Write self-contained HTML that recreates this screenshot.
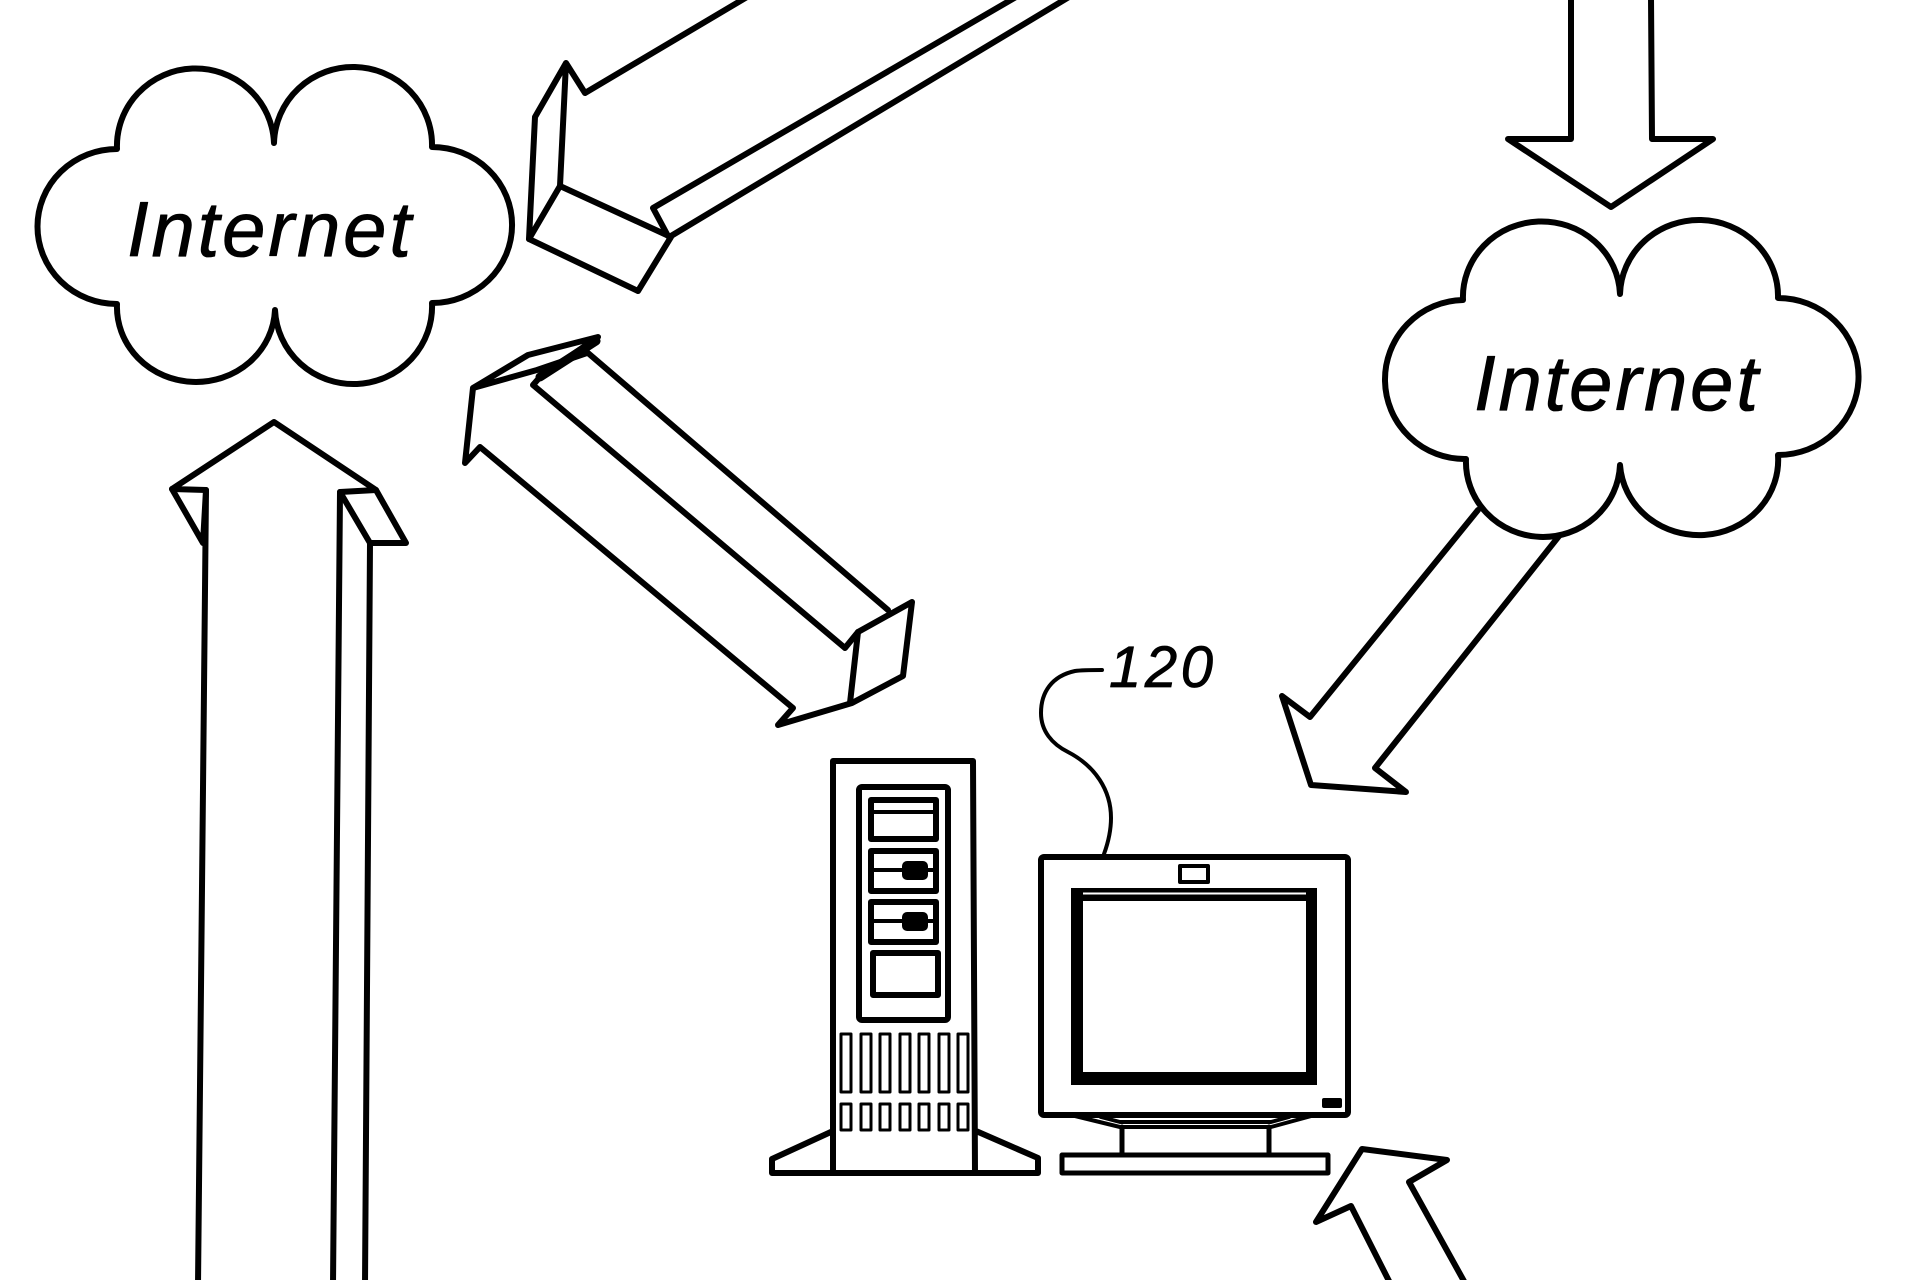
<!DOCTYPE html>
<html><head><meta charset="utf-8"><style>
html,body{margin:0;padding:0;background:#fff;width:1920px;height:1280px;overflow:hidden}
svg{display:block}
text{font-family:"Liberation Sans",sans-serif;font-style:italic;fill:#000}
</style></head><body>
<svg width="1920" height="1280" viewBox="0 0 1920 1280" xmlns="http://www.w3.org/2000/svg" fill="none" stroke="#000" stroke-width="6" stroke-linejoin="round" stroke-linecap="round">
<!-- arrow up -->
<path d="M198,1285L206,490L172,489L274,422L376,490L340,492L333,1285"/>
<path d="M172,489L203,543L206,490M340,492L370,543L406,543L376,490M370,543L365,1285"/>
<!-- top-centre arrow -->
<path d="M747,-3L585,93L566,63L535,117L529,239L638,291L671,237L560,186L566,63"/>
<path d="M560,186L529,239M1016,-3L653,208L668,236M671,236L1069,-3"/>
<!-- diagonal arrow -->
<path d="M473,388L465,463L480,447L793,708L778,725L852,703L903,676L912,602L858,632L845,648L533,385L540,377L598,337L528,355L473,388L537,370L587,353"/>
<path d="M540,377L596,341" stroke-width="9"/>
<path d="M588,353L888,610M858,632L850,703"/>
<!-- left cloud -->
<path fill="#fff" d="M117,149A78,77 0 0 1 274,143A78,77 0 0 1 432,147A78,76 0 0 1 432,303A78,77 0 0 1 275,310A78,74 0 0 1 117,304A78,76 0 0 1 117,149Z"/>
<text x="127" y="256" font-size="78" stroke-width="0.8" textLength="284" lengthAdjust="spacing">Internet</text>
<!-- down arrow -->
<path d="M1571,-3L1571,139L1508,139L1611,207L1713,139L1652,139L1651,-3"/>
<!-- lower right cloud arrow -->
<path d="M1478,510L1310,717L1282,696L1311,785L1406,792L1375,768L1563,531"/>
<!-- right cloud -->
<path fill="#fff" d="M1463,300A78,75 0 0 1 1620,294A78,75 0 0 1 1778,298A79,77 0 0 1 1778,455A78,74 0 0 1 1620,465A76,74 0 0 1 1466,459A78,78 0 0 1 1463,300Z"/>
<text x="1474" y="410" font-size="78" stroke-width="0.8" textLength="284" lengthAdjust="spacing">Internet</text>
<!-- bottom-right arrow -->
<path d="M1390,1283L1351,1206L1316,1222L1362,1149L1447,1160L1409,1182L1465,1283"/>
<!-- tower -->
<path d="M833,1173L833,761L973,761L975,1173M772,1173L1038,1173M772,1173L772,1159L833,1131M1038,1173L1038,1158L976,1131"/>
<rect x="859" y="787" width="89" height="233" rx="3"/>
<rect x="871" y="800" width="65" height="39"/>
<path d="M871,812H936" stroke-width="4"/>
<rect x="871" y="851" width="65" height="40"/>
<path d="M871,870H903" stroke-width="4"/>
<rect x="903" y="862" width="24" height="17" rx="4" fill="#000" stroke-width="2"/>
<path d="M927,870H936" stroke-width="4"/>
<rect x="871" y="902" width="65" height="40"/>
<path d="M871,921H903" stroke-width="4"/>
<rect x="903" y="913" width="24" height="17" rx="4" fill="#000" stroke-width="2"/>
<path d="M927,921H936" stroke-width="4"/>
<rect x="873" y="953" width="65" height="42"/>
<g stroke-width="3">
<rect x="841" y="1034" width="10" height="58"/><rect x="861" y="1034" width="10" height="58"/><rect x="880" y="1034" width="10" height="58"/><rect x="900" y="1034" width="10" height="58"/><rect x="919" y="1034" width="10" height="58"/><rect x="939" y="1034" width="10" height="58"/><rect x="958" y="1034" width="10" height="58"/>
<rect x="841" y="1104" width="10" height="26"/><rect x="861" y="1104" width="10" height="26"/><rect x="880" y="1104" width="10" height="26"/><rect x="900" y="1104" width="10" height="26"/><rect x="919" y="1104" width="10" height="26"/><rect x="939" y="1104" width="10" height="26"/><rect x="958" y="1104" width="10" height="26"/>
</g>
<!-- leader + 120 -->
<path d="M1102,670C1090,670 1082,670 1075,671C1052,676 1041,692 1041,713C1041,731 1052,744 1068,752C1095,766 1111,790 1111,818C1111,832 1108,843 1104,854" stroke-width="4"/>
<text x="1109" y="687" font-size="58" stroke-width="0.8" textLength="104" lengthAdjust="spacing">120</text>
<!-- monitor -->
<rect x="1041" y="857" width="307" height="258" rx="3"/>
<rect x="1180" y="866" width="28" height="16" stroke-width="4"/>
<path fill="#000" stroke="none" fill-rule="evenodd" d="M1071,888H1317V1085H1071ZM1083,901V1072H1306V901ZM1083,892.5V894.5H1306V892.5Z"/>
<rect x="1322" y="1098" width="20" height="10" rx="2" fill="#000" stroke="none"/>
<path d="M1075,1116L1120,1127H1271L1315,1115M1101,1117L1120,1122H1271L1289,1117" stroke-width="4"/>
<path d="M1122,1127V1154M1269,1127V1154" stroke-width="5"/>
<rect x="1062" y="1155" width="266" height="18" stroke-width="5"/>
</svg>
</body></html>
